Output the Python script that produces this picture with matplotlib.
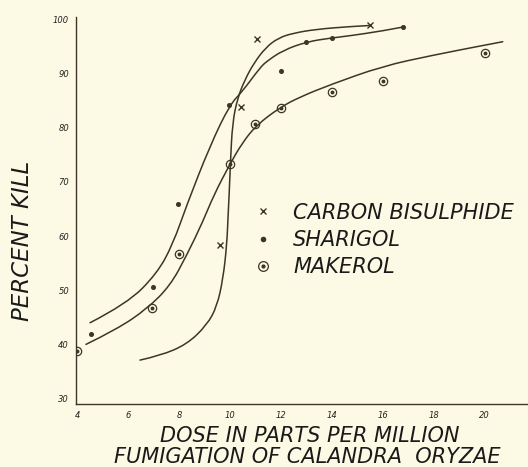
import matplotlib
matplotlib.use("Agg")
import numpy as np
import matplotlib.pyplot as plt
from matplotlib.lines import Line2D
from matplotlib.legend_handler import HandlerTuple
from matplotlib.path import Path
from matplotlib.patches import PathPatch

# measured points (dose in ppm, percent kill)
cs2_x = [9.6, 10.45, 11.05, 15.5]
cs2_y = [58.3, 83.9, 96.4, 98.9]
shar_x = [4.55, 7.0, 7.95, 9.95, 12.0, 13.0, 14.0, 16.8]
shar_y = [41.9, 50.6, 66.0, 84.3, 90.5, 95.9, 96.6, 98.6]
mak_x = [4.0, 6.95, 8.0, 10.0, 11.0, 12.0, 14.0, 16.0, 20.0]
mak_y = [38.8, 46.8, 56.7, 73.3, 80.7, 83.7, 86.6, 88.6, 93.9]

# hand drawn curves
cs2_cx = [6.47, 7.25, 8.31, 9.10, 9.49, 9.73, 9.88, 9.93, 9.97, 10.02, 10.1, 10.3,
          10.6, 10.95, 11.4, 11.9, 12.5, 13.4, 14.7, 15.5]
cs2_cy = [37.1, 37.9, 40.0, 43.6, 47.0, 52.1, 58.5, 64.0, 67.6, 73.6, 80.9, 85.5,
          89.0, 92.0, 94.8, 96.6, 97.5, 98.2, 98.7, 98.9]
shar_cx = [4.51, 5.96, 7.14, 7.76, 8.31, 9.22, 10.0, 10.47, 11.18, 11.45, 12.08,
           13.02, 14.0, 14.71, 16.0, 16.78]
shar_cy = [44.0, 47.5, 53.1, 58.5, 65.8, 76.7, 84.3, 86.6, 91.1, 92.3, 94.3,
           95.9, 96.6, 97.0, 97.9, 98.6]
mak_cx = [4.35, 5.57, 6.75, 7.65, 8.31, 8.94, 9.37, 10.0, 10.47, 11.02, 11.96,
          12.75, 13.96, 16.0, 17.96, 19.92, 20.71]
mak_cy = [40.0, 42.8, 46.6, 50.8, 56.5, 62.7, 67.6, 73.3, 77.1, 80.4, 83.75,
          85.7, 88.0, 91.4, 93.4, 95.2, 95.9]

x_ticks = [4, 6, 8, 10, 12, 14, 16, 18, 20]
y_ticks = [30, 40, 50, 60, 70, 80, 90, 100]

paper = "#fcfae4"
ink = "#3c3528"


def smooth_curve(ax, xs, ys):
    # read points act as quadratic bezier control points, joined at midpoints
    p = np.column_stack([xs, ys])
    verts = [p[0]]
    codes = [Path.MOVETO]
    for i in range(1, len(p) - 1):
        end = p[i + 1] if i == len(p) - 2 else (p[i] + p[i + 1]) / 2
        verts += [p[i], end]
        codes += [Path.CURVE3, Path.CURVE3]
    ax.add_patch(PathPatch(Path(verts, codes), fill=False, edgecolor=ink, lw=1.1,
                           capstyle="round"))


fig = plt.figure(figsize=(5.28, 4.67), dpi=100, facecolor=paper)
ax = fig.add_axes([0.144, 0.135, 0.856, 0.829])
ax.set_facecolor(paper)

smooth_curve(ax, cs2_cx, cs2_cy)
smooth_curve(ax, shar_cx, shar_cy)
smooth_curve(ax, mak_cx, mak_cy)

ax.plot(cs2_x, cs2_y, ls="none", marker="x", ms=4, mew=1.0, color=ink)
ax.plot(shar_x, shar_y, ls="none", marker="o", ms=2.6, color=ink)
ax.plot(mak_x, mak_y, ls="none", marker="o", ms=6, mfc="none", mec=ink, mew=0.9)
ax.plot(mak_x, mak_y, ls="none", marker="o", ms=1.8, color=ink)

ax.set_xlim(3.96, 21.7)
ax.set_ylim(29.0, 100.5)
ax.set_xticks(x_ticks)
ax.set_yticks(y_ticks)
ax.tick_params(length=0, labelsize=6, colors="#222222", pad=5)
for lab in ax.get_xticklabels() + ax.get_yticklabels():
    lab.set_fontstyle("italic")
for s in ["top", "right"]:
    ax.spines[s].set_visible(False)
for s in ["left", "bottom"]:
    ax.spines[s].set_color(ink)
    ax.spines[s].set_linewidth(1.0)

# legend
h_cs2 = Line2D([], [], ls="none", marker="x", ms=5, mew=1.0, color=ink)
h_shar = Line2D([], [], ls="none", marker="o", ms=3, color=ink)
h_mak = (Line2D([], [], ls="none", marker="o", ms=7, mfc="none", mec=ink, mew=0.9),
         Line2D([], [], ls="none", marker="o", ms=2, color=ink))
ax.legend([h_cs2, h_shar, h_mak], ["CARBON BISULPHIDE", "SHARIGOL", "MAKEROL"],
          handler_map={tuple: HandlerTuple(ndivide=1)},
          loc="upper left", bbox_to_anchor=(0.447, 0.606), bbox_transform=fig.transFigure,
          frameon=False, handlelength=0.8, handletextpad=1.05, labelspacing=0.35,
          prop={"size": 15, "style": "italic"}, labelcolor="#1a1a1a")

txt = dict(style="italic", color="#1a1a1a", ha="center", va="center")
fig.text(0.042, 0.484, "PERCENT KILL", rotation=90, fontsize=16.5, **txt)
fig.text(0.587, 0.066, "DOSE IN PARTS PER MILLION", fontsize=15, **txt)
fig.text(0.582, 0.021, "FUMIGATION OF CALANDRA  ORYZAE", fontsize=15, **txt)

fig.savefig("out.png", dpi=100, facecolor=paper)
